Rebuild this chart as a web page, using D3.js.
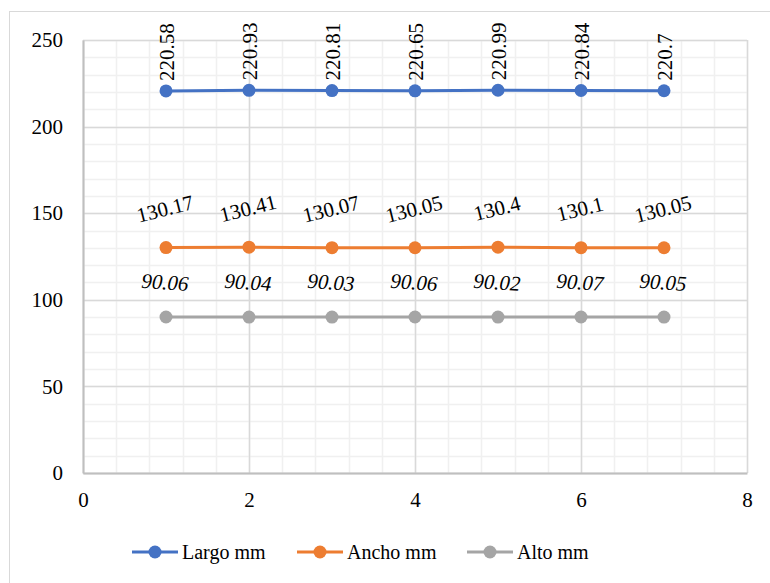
<!DOCTYPE html>
<html><head><meta charset="utf-8">
<script src="https://cdn.jsdelivr.net/npm/d3@7"></script>
<style>body{margin:0;background:#fff}svg{display:block}</style>
</head><body>
<script>
const xValues = [1, 2, 3, 4, 5, 6, 7];
const largo = [220.58, 220.93, 220.81, 220.65, 220.99, 220.84, 220.7];
const ancho = [130.17, 130.41, 130.07, 130.05, 130.4, 130.1, 130.05];
const alto = [90.06, 90.04, 90.03, 90.06, 90.02, 90.07, 90.05];
const seriesNames = ["Largo mm", "Ancho mm", "Alto mm"];
const colors = ["#4472C4", "#ED7D31", "#A5A5A5"];
const xTicks = [0, 2, 4, 6, 8];
const yTicks = [0, 50, 100, 150, 200, 250];

const FF = '"Liberation Serif"';
const W = 770, H = 583;
const svg = d3.select("body").append("svg").attr("width", W).attr("height", H);

svg.append("rect").attr("x", 9.5).attr("y", 11.5).attr("width", 800).attr("height", 600)
  .attr("fill", "#fff").attr("stroke", "#d9d9d9").attr("stroke-width", 1);

const x = d3.scaleLinear().domain([0, 8]).range([83, 747]);
const y = d3.scaleLinear().domain([0, 250]).range([473, 40]);

const g = svg.append("g");
g.selectAll("line.mx").data(d3.range(0, 8.001, 0.4)).enter().append("line")
  .attr("x1", d => Math.round(x(d)) + 0.5).attr("x2", d => Math.round(x(d)) + 0.5)
  .attr("y1", y(250)).attr("y2", y(0)).attr("stroke", "#f0f0f0").attr("stroke-width", 1.5);
g.selectAll("line.my").data(d3.range(0, 250.001, 10)).enter().append("line")
  .attr("y1", d => Math.round(y(d)) + 0.5).attr("y2", d => Math.round(y(d)) + 0.5)
  .attr("x1", x(0)).attr("x2", x(8)).attr("stroke", "#f0f0f0").attr("stroke-width", 1.5);
g.selectAll("line.Mx").data(xTicks).enter().append("line")
  .attr("x1", d => Math.round(x(d)) + 0.5).attr("x2", d => Math.round(x(d)) + 0.5)
  .attr("y1", y(250)).attr("y2", y(0)).attr("stroke", "#d9d9d9").attr("stroke-width", 1.5);
g.selectAll("line.My").data(yTicks).enter().append("line")
  .attr("y1", d => Math.round(y(d)) + 0.5).attr("y2", d => Math.round(y(d)) + 0.5)
  .attr("x1", x(0)).attr("x2", x(8)).attr("stroke", "#d9d9d9").attr("stroke-width", 1.5);

const yAxis = d3.axisLeft(y).tickValues(yTicks).tickSize(0).tickPadding(20);
const xAxis = d3.axisBottom(x).tickValues(xTicks).tickSize(0).tickPadding(19);
const ya = svg.append("g").attr("transform", `translate(${x(0)},0)`).call(yAxis);
const xa = svg.append("g").attr("transform", `translate(0,${y(0)})`).call(xAxis);
[ya, xa].forEach(a => {
  a.select(".domain").attr("stroke", "#bfbfbf").attr("stroke-width", 2);
  a.selectAll("text").style("font-family", FF).style("font-size", "21px").attr("fill", "#000");
});

const data = [largo, ancho, alto];
const line = d3.line().x((d, i) => x(xValues[i])).y(d => y(d));
data.forEach((vals, si) => {
  svg.append("path").datum(vals).attr("d", line).attr("fill", "none")
    .attr("stroke", colors[si]).attr("stroke-width", 3);
  svg.selectAll(null).data(vals).enter().append("circle")
    .attr("cx", (d, i) => x(xValues[i])).attr("cy", d => y(d)).attr("r", 6.5)
    .attr("fill", colors[si]);
});

svg.selectAll(null).data(largo).enter().append("text")
  .attr("transform", (d, i) => `translate(${x(xValues[i]) + 1},${y(d) - 10}) rotate(-90)`)
  .attr("text-anchor", "start").attr("dy", "0.35em")
  .style("font-family", FF).style("font-size", "21px").text(d => d);
svg.selectAll(null).data(ancho).enter().append("text")
  .attr("transform", (d, i) => `translate(${x(xValues[i]) - 1},${y(d) - 39}) rotate(-14)`)
  .attr("text-anchor", "middle").attr("dy", "0.35em")
  .style("font-family", FF).style("font-size", "21px").text(d => d);
svg.selectAll(null).data(alto).enter().append("text")
  .attr("transform", (d, i) => `translate(${x(xValues[i]) - 1},${y(d) - 35}) rotate(4)`)
  .attr("text-anchor", "middle").attr("dy", "0.35em").style("font-style", "italic")
  .style("font-family", FF).style("font-size", "21px").text(d => d);

const legX = [132, 297, 467];
const lg = svg.append("g");
seriesNames.forEach((name, i) => {
  const lx = legX[i], ly = 552;
  lg.append("line").attr("x1", lx).attr("x2", lx + 46).attr("y1", ly).attr("y2", ly)
    .attr("stroke", colors[i]).attr("stroke-width", 3);
  lg.append("circle").attr("cx", lx + 23).attr("cy", ly).attr("r", 6.5).attr("fill", colors[i]);
  lg.append("text").attr("x", lx + 50).attr("y", ly).attr("dy", "0.35em")
    .style("font-family", FF).style("font-size", "20px").text(name);
});
</script>
</body></html>
